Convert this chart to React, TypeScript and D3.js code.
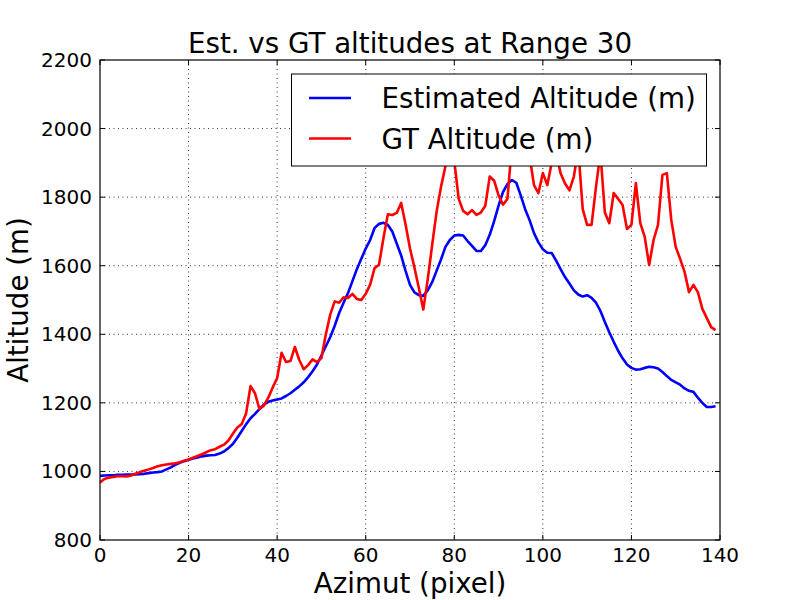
import React from "react";
import * as d3 from "d3";

const estimated: number[] = [
  987, 988, 989, 989, 990, 990, 991, 991, 991, 992,
  993, 995, 997, 998, 1000, 1006, 1012, 1019, 1025, 1030,
  1034, 1038, 1041, 1044, 1046, 1047, 1048, 1052, 1058, 1068,
  1080, 1098, 1118, 1138, 1155, 1168, 1182, 1195, 1203, 1207,
  1210, 1213, 1220, 1228, 1238, 1248, 1260, 1275, 1292, 1312,
  1338, 1365, 1392, 1425, 1462, 1492, 1520, 1555, 1590, 1620,
  1650, 1675, 1710, 1722, 1725, 1719, 1700, 1665, 1630, 1585,
  1544, 1522, 1514, 1512, 1528, 1552, 1585, 1618, 1655, 1675,
  1688, 1690, 1688, 1672, 1658, 1643, 1643, 1660, 1690, 1730,
  1775, 1815, 1838, 1850, 1842, 1805, 1765, 1733, 1695, 1668,
  1648, 1638, 1637, 1615, 1590, 1567, 1548, 1528, 1516, 1510,
  1514, 1506, 1492, 1468, 1436, 1406, 1378, 1352, 1330, 1312,
  1302, 1297, 1298, 1302, 1305, 1304, 1300, 1290, 1278, 1267,
  1260, 1253, 1242, 1235, 1232, 1215, 1200, 1188, 1188, 1190,
];

const groundTruth: number[] = [
  968, 978, 982, 984, 986, 986, 985, 988, 993, 998,
  1002, 1006, 1010, 1015, 1018, 1020, 1022, 1024, 1027, 1031,
  1035, 1040, 1045, 1050, 1056, 1062, 1065, 1072, 1078, 1090,
  1110, 1128, 1138, 1170, 1249, 1228, 1182, 1192, 1215, 1245,
  1272, 1346, 1319, 1322, 1363, 1325, 1298, 1310, 1327, 1319,
  1331, 1400, 1458, 1496, 1492, 1508, 1506, 1518, 1503, 1500,
  1518, 1545, 1593, 1603, 1680, 1750, 1748, 1754, 1783, 1720,
  1650, 1595, 1535, 1472, 1560, 1660, 1757, 1830, 1890, 1975,
  1905, 1795, 1760, 1750, 1762, 1748, 1755, 1775, 1860, 1848,
  1805, 1778, 1795, 1950, 2000, 2010, 1980, 1920, 1835, 1812,
  1870, 1835, 1900, 1930, 1870, 1840, 1820, 1860, 1940, 1765,
  1719, 1719, 1830, 1930, 1755, 1724, 1812, 1795, 1777, 1707,
  1719, 1841, 1724, 1684, 1602, 1675, 1719, 1865, 1870, 1733,
  1655, 1620, 1582, 1523, 1544, 1523, 1475, 1448, 1421, 1412,
];

const xTicks: number[] = [0, 20, 40, 60, 80, 100, 120, 140];
const yTicks: number[] = [800, 1000, 1200, 1400, 1600, 1800, 2000, 2200];
const seriesNames: string[] = ["Estimated Altitude (m)", "GT Altitude (m)"];
const seriesColors: string[] = ["#0000ff", "#ff0000"];
const titleText = "Est. vs GT altitudes at Range 30";
const xLabel = "Azimut (pixel)";
const yLabel = "Altitude (m)";

const W = 800;
const H = 600;
const m = { left: 100, right: 720, top: 60, bottom: 540 };
const FONT = "DejaVu Sans, sans-serif";

export default function App() {
  const x = d3.scaleLinear().domain([0, 140]).range([m.left, m.right]);
  const y = d3.scaleLinear().domain([800, 2200]).range([m.bottom, m.top]);
  const line = d3
    .line<number>()
    .x((_, i) => x(i))
    .y((d) => y(d));
  const series = [estimated, groundTruth];
  const tickLen = 5;

  return (
    <div style={{ position: "absolute", left: 0, top: 0 }}>
      <svg width={W} height={H} viewBox={`0 0 ${W} ${H}`} style={{ display: "block", background: "#fff" }}>
        <defs>
          <clipPath id="plotclip">
            <rect x={m.left} y={m.top} width={m.right - m.left} height={m.bottom - m.top} />
          </clipPath>
        </defs>
        <rect x={0} y={0} width={W} height={H} fill="#fff" />
        {/* grid */}
        <g stroke="#000" strokeWidth={0.8} strokeDasharray="1,3.5">
          {xTicks.slice(1, -1).map((t) => (
            <line key={"gx" + t} x1={x(t)} x2={x(t)} y1={m.top} y2={m.bottom} />
          ))}
          {yTicks.slice(1, -1).map((t) => (
            <line key={"gy" + t} x1={m.left} x2={m.right} y1={y(t)} y2={y(t)} />
          ))}
        </g>
        {/* data lines */}
        <g clipPath="url(#plotclip)">
          {series.map((s, k) => (
            <path
              key={k}
              d={line(s) || ""}
              fill="none"
              stroke={seriesColors[k]}
              strokeWidth={2.6}
              strokeLinejoin="round"
            />
          ))}
        </g>
        {/* ticks on all sides */}
        <g stroke="#000" strokeWidth={1}>
          {xTicks.map((t) => (
            <g key={"tx" + t}>
              <line x1={x(t)} x2={x(t)} y1={m.bottom} y2={m.bottom - tickLen} />
              <line x1={x(t)} x2={x(t)} y1={m.top} y2={m.top + tickLen} />
            </g>
          ))}
          {yTicks.map((t) => (
            <g key={"ty" + t}>
              <line x1={m.left} x2={m.left + tickLen} y1={y(t)} y2={y(t)} />
              <line x1={m.right} x2={m.right - tickLen} y1={y(t)} y2={y(t)} />
            </g>
          ))}
        </g>
        {/* frame */}
        <rect
          x={m.left}
          y={m.top}
          width={m.right - m.left}
          height={m.bottom - m.top}
          fill="none"
          stroke="#000"
          strokeWidth={1.2}
        />
        {/* tick labels */}
        <g fontFamily={FONT} fontSize={20} fill="#000">
          {xTicks.map((t) => (
            <text key={"lx" + t} x={x(t)} y={562} textAnchor="middle">
              {t}
            </text>
          ))}
          {yTicks.map((t) => (
            <text key={"ly" + t} x={92} y={y(t) + 7} textAnchor="end">
              {t}
            </text>
          ))}
        </g>
        {/* title and axis labels */}
        <text x={(m.left + m.right) / 2} y={53} textAnchor="middle" fontFamily={FONT} fontSize={27.7}>
          {titleText}
        </text>
        <text x={(m.left + m.right) / 2} y={593} textAnchor="middle" fontFamily={FONT} fontSize={27.7}>
          {xLabel}
        </text>
        <text
          transform={`translate(28, ${(m.top + m.bottom) / 2}) rotate(-90)`}
          textAnchor="middle"
          fontFamily={FONT}
          fontSize={27.7}
        >
          {yLabel}
        </text>
        {/* legend */}
        <g>
          <rect x={291.5} y={74} width={415} height={92} fill="#fff" stroke="#000" strokeWidth={1} />
          {seriesNames.map((name, k) => (
            <g key={name}>
              <line
                x1={309}
                x2={351}
                y1={98 + k * 40.5}
                y2={98 + k * 40.5}
                stroke={seriesColors[k]}
                strokeWidth={2.6}
              />
              <text x={381.5} y={107.5 + k * 41} fontFamily={FONT} fontSize={27.7} fill="#000">
                {name}
              </text>
            </g>
          ))}
        </g>
      </svg>
    </div>
  );
}
